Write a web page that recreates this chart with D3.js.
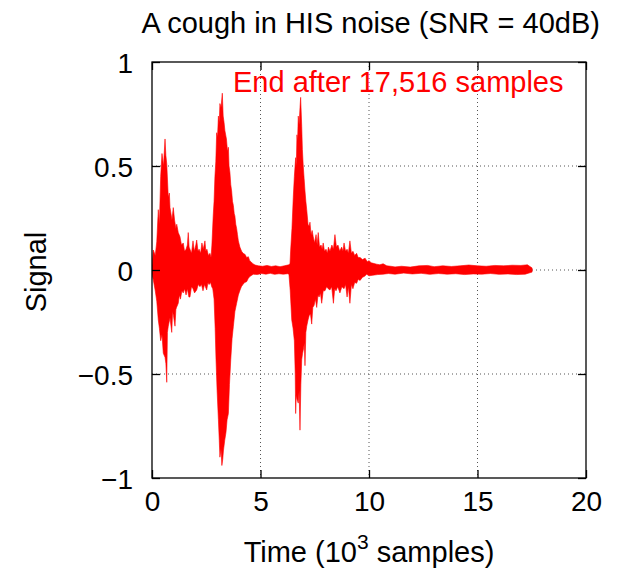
<!DOCTYPE html>
<html>
<head>
<meta charset="utf-8">
<script src="https://cdn.jsdelivr.net/npm/d3@7/dist/d3.min.js"></script>
<style>
  html, body { margin: 0; padding: 0; background: #fff; }
  svg { display: block; }
  text { font-family: "Liberation Sans", Arial, Helvetica, sans-serif; }
</style>
</head>
<body>
<script>
// ---- Data (time in 10^3 samples, signal amplitude) ----
const titleText = "A cough in HIS noise (SNR = 40dB)";
const annotationText = "End after 17,516 samples";
const xTicks = [0, 5, 10, 15, 20];
const yTicks = [-1, -0.5, 0, 0.5, 1];
const yTickLabels = ["\u22121", "\u22120.5", "0", "0.5", "1"];

// Upper envelope of the waveform [time, max]
const upperEnvelope = [
  [0,0.02],[0.06,0.096],[0.15,0.07],[0.22,0.136],[0.29,0.29],[0.34,0.22],[0.40,0.45],[0.46,0.56],[0.53,0.50],[0.60,0.63],
  [0.64,0.55],[0.68,0.51],[0.75,0.35],[0.80,0.37],[0.83,0.30],[0.92,0.24],[0.98,0.30],[1.04,0.24],[1.10,0.20],[1.14,0.22],
  [1.21,0.18],[1.29,0.16],[1.36,0.12],[1.44,0.13],[1.50,0.09],[1.57,0.10],[1.63,0.12],[1.67,0.18],[1.71,0.11],[1.75,0.10],
  [1.82,0.08],[1.89,0.14],[1.95,0.09],[2.02,0.12],[2.06,0.144],[2.12,0.09],[2.17,0.10],[2.24,0.08],[2.30,0.13],[2.36,0.10],
  [2.44,0.14],[2.48,0.09],[2.53,0.10],[2.60,0.07],[2.67,0.08],[2.72,0.06],[2.76,0.12],[2.82,0.26],[2.86,0.33],[2.90,0.45],
  [2.94,0.52],[2.98,0.66],[3.02,0.64],[3.06,0.74],[3.10,0.71],[3.13,0.80],[3.18,0.78],[3.24,0.85],[3.28,0.74],[3.32,0.71],
  [3.36,0.67],[3.43,0.63],[3.48,0.57],[3.52,0.59],[3.55,0.50],[3.59,0.47],[3.63,0.41],[3.67,0.38],[3.71,0.33],[3.75,0.31],
  [3.79,0.27],[3.82,0.26],[3.86,0.22],[3.90,0.20],[3.94,0.17],[3.98,0.14],[4.05,0.11],[4.13,0.09],[4.20,0.08],[4.29,0.075],
  [4.36,0.06],[4.44,0.064],[4.50,0.045],[4.56,0.04],[4.65,0.03],[4.75,0.024],[4.9,0.02],[5.1,0.018],[5.3,0.022],[5.5,0.017],
  [5.7,0.02],[5.9,0.016],[6.1,0.02],[6.3,0.025],[6.36,0.03],[6.39,0.096],[6.45,0.20],[6.51,0.35],[6.56,0.45],[6.62,0.54],
  [6.65,0.50],[6.68,0.65],[6.71,0.62],[6.74,0.74],[6.78,0.70],[6.82,0.78],[6.85,0.83],[6.90,0.69],[6.93,0.58],[6.97,0.50],
  [7.01,0.44],[7.05,0.38],[7.09,0.33],[7.13,0.29],[7.19,0.22],[7.24,0.21],[7.28,0.23],[7.33,0.17],[7.38,0.19],[7.43,0.16],
  [7.49,0.13],[7.56,0.17],[7.61,0.12],[7.66,0.18],[7.72,0.11],[7.79,0.12],[7.84,0.10],[7.89,0.13],[7.95,0.09],[8.02,0.10],
  [8.08,0.08],[8.13,0.11],[8.20,0.09],[8.29,0.12],[8.36,0.10],[8.43,0.17],[8.50,0.11],[8.57,0.12],[8.65,0.09],[8.74,0.11],
  [8.80,0.09],[8.85,0.13],[8.92,0.09],[8.99,0.10],[9.05,0.08],[9.12,0.14],[9.19,0.08],[9.26,0.09],[9.34,0.07],[9.43,0.08],
  [9.50,0.06],[9.59,0.06],[9.70,0.05],[9.82,0.057],[9.92,0.04],[10.0,0.045],[10.1,0.035],[10.2,0.032],[10.35,0.028],[10.5,0.025],
  [10.65,0.03],[10.82,0.02],[11.0,0.018],[11.2,0.015],[11.5,0.018],[11.9,0.014],[12.3,0.02],[12.7,0.022],[13.0,0.016],[13.4,0.02],
  [13.8,0.017],[14.2,0.02],[14.6,0.024],[15.0,0.02],[15.4,0.018],[15.8,0.022],[16.2,0.02],[16.6,0.023],[17.0,0.022],[17.3,0.025],
  [17.516,0.01]
];

// Lower envelope of the waveform [time, min]
const lowerEnvelope = [
  [0,-0.02],[0.06,-0.048],[0.15,-0.10],[0.22,-0.15],[0.29,-0.24],[0.34,-0.28],[0.40,-0.34],[0.46,-0.31],[0.52,-0.40],[0.60,-0.42],
  [0.64,-0.45],[0.68,-0.54],[0.71,-0.30],[0.75,-0.27],[0.83,-0.23],[0.91,-0.30],[0.95,-0.20],[0.99,-0.22],[1.06,-0.27],[1.10,-0.19],
  [1.13,-0.18],[1.21,-0.16],[1.26,-0.12],[1.31,-0.14],[1.38,-0.10],[1.44,-0.11],[1.50,-0.09],[1.57,-0.12],[1.63,-0.09],[1.70,-0.13],
  [1.75,-0.13],[1.82,-0.08],[1.89,-0.09],[1.96,-0.11],[2.06,-0.096],[2.13,-0.07],[2.21,-0.08],[2.28,-0.07],[2.35,-0.10],[2.42,-0.07],
  [2.52,-0.096],[2.58,-0.06],[2.63,-0.07],[2.70,-0.06],[2.75,-0.08],[2.80,-0.09],[2.86,-0.14],[2.91,-0.28],[2.95,-0.43],[3.00,-0.58],
  [3.06,-0.72],[3.10,-0.82],[3.13,-0.90],[3.18,-0.86],[3.22,-0.94],[3.26,-0.91],[3.29,-0.87],[3.35,-0.82],[3.41,-0.78],[3.46,-0.72],
  [3.52,-0.69],[3.57,-0.55],[3.63,-0.43],[3.69,-0.33],[3.75,-0.27],[3.82,-0.20],[3.90,-0.16],[3.98,-0.12],[4.06,-0.096],[4.12,-0.08],
  [4.19,-0.07],[4.27,-0.06],[4.36,-0.056],[4.44,-0.04],[4.52,-0.03],[4.60,-0.025],[4.67,-0.02],[4.85,-0.022],[5.05,-0.017],[5.25,-0.02],
  [5.45,-0.016],[5.65,-0.021],[5.85,-0.018],[6.05,-0.02],[6.25,-0.018],[6.31,-0.02],[6.37,-0.10],[6.44,-0.24],[6.50,-0.28],[6.56,-0.34],
  [6.60,-0.50],[6.62,-0.69],[6.65,-0.60],[6.68,-0.62],[6.74,-0.64],[6.78,-0.58],[6.82,-0.77],[6.86,-0.55],[6.90,-0.43],[6.94,-0.40],
  [6.98,-0.38],[7.02,-0.35],[7.05,-0.46],[7.09,-0.30],[7.13,-0.27],[7.19,-0.24],[7.24,-0.22],[7.30,-0.21],[7.36,-0.26],[7.41,-0.18],
  [7.47,-0.17],[7.53,-0.14],[7.59,-0.18],[7.65,-0.12],[7.70,-0.13],[7.76,-0.11],[7.82,-0.16],[7.89,-0.10],[7.97,-0.10],[8.05,-0.08],
  [8.12,-0.09],[8.20,-0.096],[8.28,-0.08],[8.36,-0.16],[8.42,-0.09],[8.48,-0.10],[8.56,-0.08],[8.66,-0.11],[8.75,-0.08],[8.85,-0.09],
  [8.92,-0.07],[8.99,-0.13],[9.05,-0.08],[9.12,-0.16],[9.19,-0.07],[9.26,-0.09],[9.34,-0.06],[9.43,-0.064],[9.50,-0.045],[9.59,-0.05],
  [9.70,-0.035],[9.80,-0.03],[9.89,-0.02],[10.0,-0.028],[10.18,-0.025],[10.40,-0.022],[10.65,-0.02],[10.9,-0.017],[11.2,-0.02],[11.6,-0.015],
  [12.0,-0.019],[12.4,-0.016],[12.8,-0.021],[13.2,-0.017],[13.6,-0.02],[14.0,-0.018],[14.4,-0.022],[14.8,-0.019],[15.2,-0.02],[15.6,-0.017],
  [16.0,-0.021],[16.4,-0.019],[16.8,-0.022],[17.2,-0.02],[17.516,-0.01]
];

// ---- Layout ----
const W = 618, H = 574;
const mLeft = 152, mRight = 586, mTop = 62, mBottom = 478;
const red = "#ff0000";
const fs = 29;

const svg = d3.select("body").append("svg")
  .attr("width", W).attr("height", H)
  .attr("viewBox", `0 0 ${W} ${H}`);
svg.append("rect").attr("width", W).attr("height", H).attr("fill", "#fff");

const x = d3.scaleLinear().domain([0, 20]).range([mLeft, mRight]);
const y = d3.scaleLinear().domain([-1, 1]).range([mBottom, mTop]);

// Grid (dotted)
const grid = svg.append("g").attr("stroke", "#555").attr("stroke-width", 1)
  .attr("stroke-dasharray", "1,3");
xTicks.filter(t => t > 0 && t < 20).forEach(t => {
  grid.append("line").attr("x1", x(t)).attr("x2", x(t)).attr("y1", y(1)).attr("y2", y(-1));
});
yTicks.filter(t => t > -1 && t < 1).forEach(t => {
  grid.append("line").attr("x1", x(0)).attr("x2", x(20)).attr("y1", y(t)).attr("y2", y(t));
});

// Waveform
const clip = svg.append("clipPath").attr("id", "clip");
clip.append("rect").attr("x", mLeft).attr("y", mTop).attr("width", mRight - mLeft).attr("height", mBottom - mTop);
const wave = svg.append("g").attr("clip-path", "url(#clip)");
const area = d3.area().x(d => x(d[0])).y0(y(0)).y1(d => y(d[1]));
wave.append("path").datum(upperEnvelope).attr("d", area)
  .attr("fill", red).attr("stroke", red).attr("stroke-width", 0.6);
wave.append("path").datum(lowerEnvelope).attr("d", area)
  .attr("fill", red).attr("stroke", red).attr("stroke-width", 0.6);

// Axes with inward ticks, mirrored
const tickLen = 8;
const axes = svg.append("g");
const xBottom = axes.append("g").attr("transform", `translate(0,${mBottom})`)
  .call(d3.axisBottom(x).tickValues(xTicks).tickSizeInner(-tickLen).tickSizeOuter(0).tickPadding(13));
const xTop = axes.append("g").attr("transform", `translate(0,${mTop})`)
  .call(d3.axisTop(x).tickValues(xTicks).tickSizeInner(-tickLen).tickSizeOuter(0).tickFormat(""));
const yLeft = axes.append("g").attr("transform", `translate(${mLeft},0)`)
  .call(d3.axisLeft(y).tickValues(yTicks).tickSizeInner(-tickLen).tickSizeOuter(0).tickPadding(19)
    .tickFormat((d, i) => yTickLabels[i]));
const yRight = axes.append("g").attr("transform", `translate(${mRight},0)`)
  .call(d3.axisRight(y).tickValues(yTicks).tickSizeInner(-tickLen).tickSizeOuter(0).tickFormat(""));
[xBottom, xTop, yLeft, yRight].forEach(g => {
  g.select(".domain").remove();
  g.selectAll(".tick line").attr("stroke", "#000").attr("stroke-width", 1.3);
  g.selectAll(".tick text").attr("font-family", "Liberation Sans, Arial, sans-serif")
    .attr("font-size", 28).attr("fill", "#000");
});
xBottom.selectAll(".tick text").attr("dy", "0.71em");
yLeft.selectAll(".tick text").attr("dy", "0.36em");

// Border
svg.append("rect").attr("x", mLeft).attr("y", mTop).attr("width", mRight - mLeft).attr("height", mBottom - mTop)
  .attr("fill", "none").attr("stroke", "#000").attr("stroke-width", 1.3);

// Title
svg.append("text").attr("x", 600).attr("y", 33).attr("text-anchor", "end")
  .attr("font-size", fs).attr("fill", "#000").text(titleText);

// Annotation
svg.append("text").attr("x", 233).attr("y", 92).attr("text-anchor", "start")
  .attr("font-size", fs).attr("fill", red).text(annotationText);

// X label with superscript
const xl = svg.append("text").attr("x", x(10)).attr("y", 562).attr("text-anchor", "middle")
  .attr("font-size", fs).attr("fill", "#000");
xl.append("tspan").text("Time (10");
xl.append("tspan").attr("font-size", 21).attr("dy", -13).text("3");
xl.append("tspan").attr("dy", 13).text(" samples)");

// Y label
svg.append("text").attr("transform", `translate(46,${y(0) + 2}) rotate(-90)`)
  .attr("text-anchor", "middle").attr("font-size", fs).attr("fill", "#000").text("Signal");
</script>
</body>
</html>
